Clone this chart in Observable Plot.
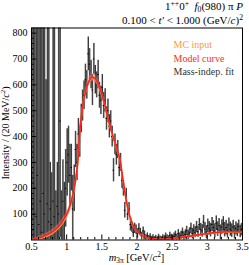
<!DOCTYPE html>
<html><head><meta charset="utf-8">
<script src="https://cdn.jsdelivr.net/npm/d3@7"></script>
<script src="https://cdn.jsdelivr.net/npm/@observablehq/plot@0.6"></script>
<style>body{margin:0;background:#fff} svg{display:block}</style>
</head><body><div id="chart"></div>
<script>
// ---- data ----
const massLow = 0.5, binWidth = 0.02; // 20 MeV bins from 0.5 to 3.5 GeV
const intensity = [
 120,40,200,90,250,60,150,30,180,100, 20,140,70,120,60,150,90,40,130,100,
 460,60,150,73,200,300,330,250,280,120, 200,350,300,410,380,470,520,560,620,600,
 720,680,640,580,700,620,600,640,560,540, 590,520,540,470,500,440,460,400,270,370,
 330,350,280,300,230,200,115,170,100,120, 60,50,30,45,40,25,45,30,15,35,
 20,8,15,5,12,4,10,3,8,2, 12,5,3,10,6,15,8,4,18,10,
 6,14,20,8,25,12,18,30,15,22, 35,20,28,45,25,38,30,50,32,60,
 40,35,70,42,30,55,45,38,60,48, 35,65,42,55,30,50,62,40,48,35,
 58,42,36,50,30,45,38,52,33,40];
const statErr = [
 900,1100,800,1000,700,900,1200,800,700,900, 600,750,800,180,200,900,800,150,170,900,
 450,130,160,150,150,130,110,120,90,130, 90,70,70,60,60,55,60,55,60,55,
 65,60,55,60,60,55,50,55,50,55, 50,50,45,45,45,45,40,40,45,40,
 40,35,35,35,30,30,30,30,25,25, 25,20,20,20,18,18,18,15,15,15,
 15,12,12,12,12,10,10,10,10,10, 10,10,10,10,10,12,12,12,12,12,
 13,13,14,14,15,15,16,16,17,17, 18,18,19,20,20,21,21,22,22,23,
 24,24,25,25,25,26,26,26,27,27, 27,28,28,28,28,28,28,28,28,27,
 27,27,26,26,26,25,25,25,24,24];

const modelMass = [0.50,0.55,0.60,0.65,0.70,0.75,0.80,0.85,0.90,0.95,1.00,1.05,1.10,1.15,1.20,1.25,1.30,1.35,1.40,1.45,1.50,1.55,1.60,1.65,1.70,1.75,1.80,1.85,1.90,1.95,2.00,2.05,2.10,2.15,2.20,2.25,2.30,2.35,2.40,2.45,2.50,2.55,2.60,2.65,2.70,2.75,2.80,2.85,2.90,2.95,3.00,3.05,3.10,3.15,3.20,3.25,3.30,3.35,3.40,3.45,3.50];
const modelValue = [0,4,8,12,17,24,32,43,57,76,100,135,190,280,460,550,603,628,626,603,565,515,458,410,365,320,235,150,90,54,34,22,14,9,6,4,3,3,3,4,5,7,9,11,13,15,17,19,21,23,25,27,28,29.5,30.5,31.5,32,32,32,31.5,31];
const modelBand  = [1,3,5,6,7,8,9,9,9,9,9,9,9,10,12,14,15,16,16,15,13,11,9,8,7,6,6,5,4,4,3,3,2,2,2,2,2,2,2,2,2,2,2,2,2,2,2,2,2,2,2,2,2,2,2,2,2,2,2,2,2];
const mcValue    = [0,3,6,9,13,19,26,37,50,68,92,128,185,278,458,548,600,624,622,600,562,512,455,407,362,318,233,148,88,52,33,21,13,8,5,3,2,2,2,3,4,6,8,10,12,14,16,18,20,22,24,26,27,28.5,29.5,30.5,31,31,31,30.5,30];

const xMajor = [0.5,1,1.5,2,2.5,3,3.5];
const xMinor = [0.6,0.7,0.8,0.9,1.1,1.2,1.3,1.4,1.6,1.7,1.8,1.9,2.1,2.2,2.3,2.4,2.6,2.7,2.8,2.9,3.1,3.2,3.3,3.4];
const yMajor = [100,200,300,400,500,600,700,800];
const yMinor = [20,40,60,80,120,140,160,180,220,240,260,280,320,340,360,380,420,440,460,480,520,540,560,580,620,640,660,680,720,740,760,780];

const legendLabels = ["MC input","Model curve","Mass-indep. fit"];
const legendColors = ["#ff9a3a","#ff2a2a","#333333"];

// ---- build ----
const data = intensity.map((v,i)=>({m: massLow + binWidth*(i+0.5), v, e: statErr[i]}));
const model = modelMass.map((m,i)=>({m, v: modelValue[i], lo: modelValue[i]-modelBand[i], hi: modelValue[i]+modelBand[i], mc: mcValue[i]}));

const serif = "'Liberation Serif','DejaVu Serif',serif";
const legendMarks = legendLabels.map((t,i)=>Plot.text([t], {text: d=>d, fill: legendColors[i], frameAnchor:"top-left", dx: 142, dy: 13 + i*13.5, textAnchor:"start", fontSize:10}));

const chart = Plot.plot({
  width: 249, height: 265,
  marginLeft: 31, marginRight: 7, marginTop: 27.5, marginBottom: 25.5,
  style: {fontFamily: serif, fontSize: "10px", color: "black", background: "white", overflow: "visible"},
  x: {domain: [0.5, 3.5]},
  y: {domain: [0, 820]},
  marks: [
    Plot.rect(data, {x1: d=>d.m-0.008, x2: d=>d.m+0.008, y1: d=>d.v-d.e, y2: d=>d.v+d.e, fill:"#7a7a7a", clip:true}),
    Plot.ruleX(data, {x:"m", y1: d=>d.v-d.e, y2: d=>d.v+d.e, stroke:"#000", strokeWidth:0.7, clip:true}),
    Plot.ruleY(data, {y:"v", x1: d=>d.m-0.01, x2: d=>d.m+0.01, stroke:"#000", strokeWidth:1, clip:true}),
    Plot.areaY(model, {x:"m", y1:"lo", y2:"hi", fill:"#ff8080", fillOpacity:0.45, curve:"catmull-rom", clip:true}),
    Plot.line(model, {x:"m", y:"mc", stroke:"#ff9a3a", strokeWidth:1.6, curve:"catmull-rom", clip:true}),
    Plot.line(model, {x:"m", y:"v", stroke:"#ff2020", strokeWidth:1.6, curve:"catmull-rom", clip:true}),
    Plot.frame({stroke:"#000"}),
    Plot.axisX(xMajor, {tickSize:-5, tickFormat: ()=>"", label:null}),
    Plot.axisX(xMinor, {tickSize:-2.5, tickFormat: ()=>"", label:null}),
    Plot.axisX(xMajor, {tickSize:0, tickPadding:3, tickFormat: d=>String(d), label:null, fontSize:10}),
    Plot.axisY(yMajor, {tickSize:-5, tickFormat: ()=>"", label:null}),
    Plot.axisY(yMinor, {tickSize:-2.5, tickFormat: ()=>"", label:null}),
    Plot.axisY(yMajor, {tickSize:0, tickPadding:4, tickFormat: d=>String(d), label:null, fontSize:10}),
    ...legendMarks
  ]
});
document.getElementById("chart").append(chart);

// rich text labels (titles, axis labels)
const svg = d3.select(chart);
function rich(x, y, anchor, segs, size, rotate) {
  const t = svg.append("text").attr("x", x).attr("y", y).attr("text-anchor", anchor)
    .attr("font-family", serif).attr("font-size", size).attr("fill", "#000");
  if (rotate) t.attr("transform", `rotate(${rotate},${x},${y})`);
  let pending = 0;
  for (const [txt, kind] of segs) {
    const sp = t.append("tspan").text(txt);
    let shift = 0;
    if (kind === "i") sp.attr("font-style", "italic");
    if (kind === "sup") { sp.attr("font-size", size*0.7); shift = -size*0.4; }
    if (kind === "sub") { sp.attr("font-size", size*0.7); shift = size*0.2; }
    const dy = pending + shift;
    if (dy) sp.attr("dy", dy);
    pending = -shift;
  }
  return t;
}
rich(243, 10, "end", [["1"],["++","sup"],["0"],["+","sup"],["  "],["f","i"],["0","sub"],["(980) π "],["P","i"]], 11);
rich(243, 24, "end", [["0.100 < "],["t′","i"],[" < 1.000 (GeV/"],["c","i"],[")"],["2","sup"]], 11);
rich(136.5, 261, "middle", [["m","i"],["3π","sub"],[" [GeV/"],["c","i"],["2","sup"],["]"]], 10.5);
rich(9, 133, "middle", [["Intensity / (20 MeV/"],["c","i"],["2","sup"],[")"]], 10, -90);
</script>
</body></html>
